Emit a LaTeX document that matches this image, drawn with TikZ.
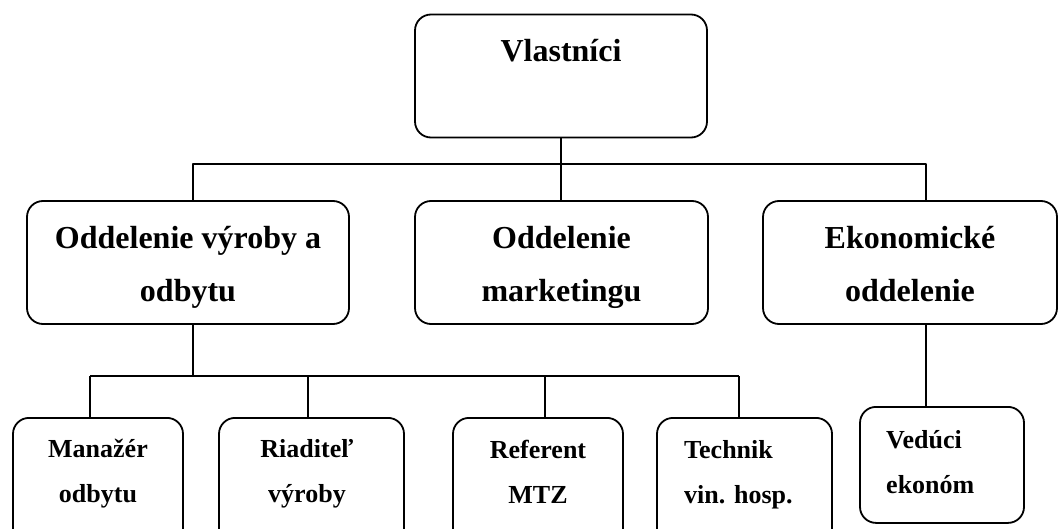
\documentclass[tikz,border=0pt]{standalone}
\usepackage{fontspec}
\setmainfont{Liberation Serif}
\tikzset{
  unitbox/.style={draw, line width=1.8pt, rounded corners=16pt, minimum height=123pt, align=center, inner sep=0pt, text height=77pt, text depth=0pt, font=\fontsize{32}{53}\selectfont\bfseries},
  postbox/.style={draw, line width=1.8pt, rounded corners=16pt, minimum height=150pt, anchor=north, inner sep=0pt},
  posttext/.style={align=center, anchor=base, inner sep=0pt, font=\fontsize{26}{45}\selectfont\bfseries},
  link/.style={line width=1.6pt},
}
\begin{document}
\begin{tikzpicture}[x=1pt, y=-1pt, line join=round]
  \useasboundingbox (0,0) rectangle (1059,529);
  \clip (0,0) rectangle (1059,529);
  % upper levels
  \node[unitbox, minimum width=292pt] (own) at (561,76) {Vlastníci\\ \mbox{}};
  \node[unitbox, minimum width=322pt] (vyr) at (188,262.5) {Oddelenie výroby a\\odbytu};
  \node[unitbox, minimum width=293pt] (mkt) at (561.5,262.5) {Oddelenie\\marketingu};
  \node[unitbox, minimum width=294pt] (eko) at (910,262.5) {Ekonomické\\oddelenie};
  % lower level
  \node[postbox, minimum width=170pt] (man) at (98,417) {};
  \node[postbox, minimum width=185pt] (ria) at (311.5,417) {};
  \node[postbox, minimum width=170pt] (ref) at (538,417) {};
  \node[postbox, minimum width=175pt] (tech) at (744.5,417) {};
  \node[postbox, minimum width=164pt, minimum height=116pt] (ved) at (942,406) {};
  \node[posttext] (manT) at (98,502) {Manažér\\odbytu};
  \node[posttext] (riaT) at (307,502) {Riaditeľ\\výroby};
  \node[posttext] (refT) at (538,503) {Referent\\MTZ};
  \node[posttext, anchor=base west, align=left] (techT) at (684,503) {Technik\\vin. hosp.};
  \node[posttext, anchor=base west, align=left] (vedT) at (886,493) {Vedúci\\ekonóm};
  % connectors
  \coordinate (bus1) at (0,164);
  \coordinate (bus2) at (0,376);
  \draw[link] (own.south) -- (own.south |- mkt.north);
  \draw[link] ([xshift=5pt]vyr.north) -- ([xshift=5pt]vyr.north |- bus1) -- ([xshift=16pt]eko.north |- bus1) -- ([xshift=16pt]eko.north);
  \draw[link] ([xshift=5pt]vyr.south) -- ([xshift=5pt]vyr.south |- bus2);
  \draw[link] ([xshift=-8pt]man.north |- bus2) -- ([xshift=-5.5pt]tech.north |- bus2);
  \foreach \n/\d in {man/-8,ria/-3.5,ref/7,tech/-5.5}
    \draw[link] ([xshift=\d pt]\n.north) -- ([xshift=\d pt]\n.north |- bus2);
  \draw[link] ([xshift=16pt]eko.south) -- ([xshift=-16pt]ved.north);
\end{tikzpicture}
\end{document}
